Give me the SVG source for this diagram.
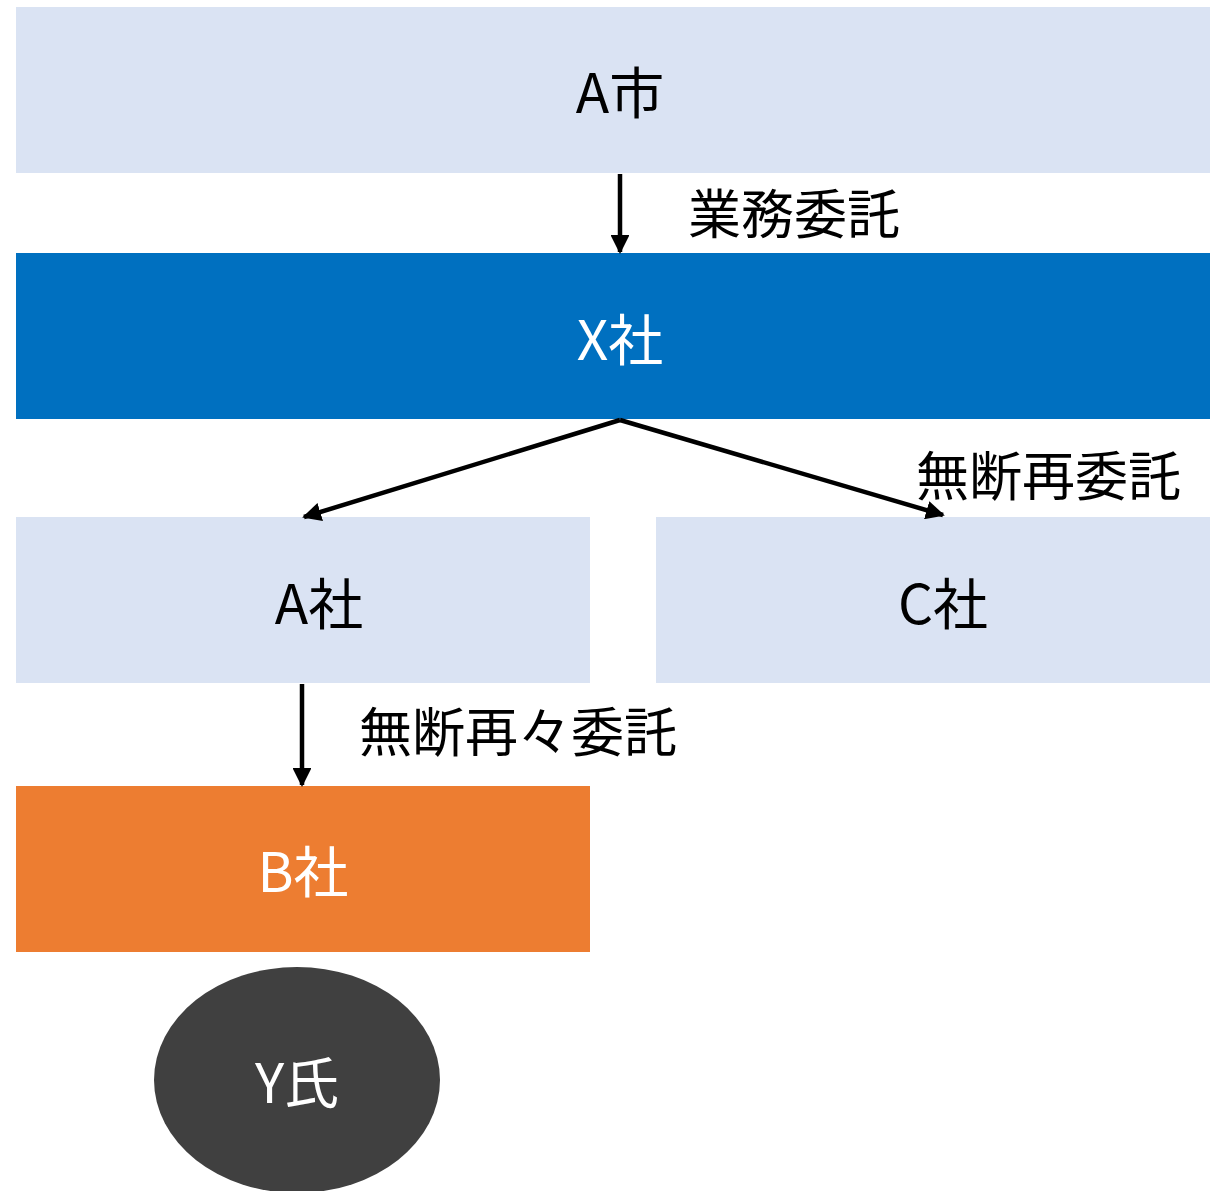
<svg xmlns="http://www.w3.org/2000/svg" width="1210" height="1191" viewBox="0 0 1210 1191">
<style>
text{font-family:"Noto Sans CJK JP","Noto Sans",sans-serif;font-size:55px;text-anchor:middle;dominant-baseline:central}
.lbl{text-anchor:start;font-size:53px}
.w{fill:#fff}
.k{fill:#000}
.conn{stroke:#000;stroke-width:4.5;fill:none}
</style>
<defs>
<marker id="ah" viewBox="0 0 10 10" refX="9" refY="5" markerWidth="4.2" markerHeight="4.2" orient="auto" markerUnits="strokeWidth">
<path d="M0,0 L10,5 L0,10 z" fill="#000"/>
</marker>
</defs>
<rect width="1210" height="1191" fill="#fff"/>
<g id="node-A-city">
<rect x="16" y="7" width="1194" height="166" fill="#DAE3F3"/>
<text x="620" y="89" class="k">A市</text>
</g>
<g id="node-X">
<rect x="16" y="253" width="1194" height="166" fill="#0070C0"/>
<text x="620" y="336" class="w">X社</text>
</g>
<g id="node-A">
<rect x="16" y="517" width="574" height="166" fill="#DAE3F3"/>
<text x="319" y="600" class="k">A社</text>
</g>
<g id="node-C">
<rect x="656" y="517" width="554" height="166" fill="#DAE3F3"/>
<text x="943" y="600" class="k">C社</text>
</g>
<g id="node-B">
<rect x="16" y="786" width="574" height="166" fill="#ED7D31"/>
<text x="303" y="868" class="w">B社</text>
</g>
<g id="node-Y">
<ellipse cx="297" cy="1080" rx="143" ry="113" fill="#404040"/>
<text x="297" y="1079" class="w">Y氏</text>
</g>
<g id="connectors">
<line class="conn" x1="620" y1="174" x2="620" y2="252" marker-end="url(#ah)"/>
<line class="conn" x1="620" y1="420" x2="304" y2="517" marker-end="url(#ah)"/>
<line class="conn" x1="620" y1="420" x2="943" y2="515" marker-end="url(#ah)"/>
<line class="conn" x1="302" y1="684" x2="302" y2="785" marker-end="url(#ah)"/>
<text x="688" y="211" class="k lbl">業務委託</text>
<text x="916" y="473" class="k lbl">無断再委託</text>
<text x="359" y="729" class="k lbl">無断再々委託</text>
</g>
</svg>
